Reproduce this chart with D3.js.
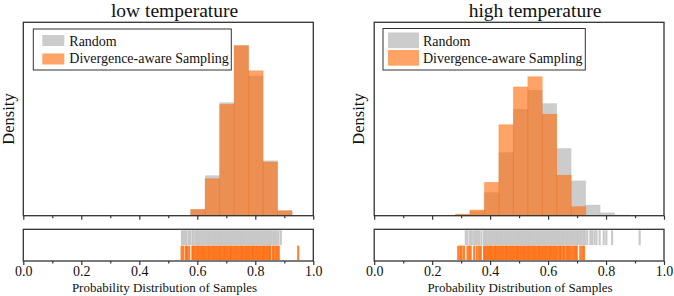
<!DOCTYPE html>
<html>
<head>
<meta charset="utf-8">
<script src="https://cdn.jsdelivr.net/npm/d3@7"></script>
<style>
  html, body { margin: 0; padding: 0; background: #fff; }
  svg { display: block; }
  text { font-family: "Liberation Serif", "Times New Roman", serif; fill: #111; }
</style>
</head>
<body>
<svg id="chart" width="674" height="296"></svg>
<script>
// ---------------- DATA ----------------
const panelTitles = ["low temperature", "high temperature"];
const seriesNames = ["Random", "Divergence-aware Sampling"];
const xTickLabels = [0.0, 0.2, 0.4, 0.6, 0.8, 1.0];
const xMinorTicks = [0.1, 0.3, 0.5, 0.7, 0.9];
const xLabel = "Probability Distribution of Samples";
const yLabel = "Density";

// histogram bin left edges (width 0.05) and densities
const lowBinEdges = [0.577, 0.627, 0.677, 0.727, 0.777, 0.827, 0.877];
const lowRandom   = [0.25, 1.52, 4.28, 6.43, 5.28, 2.08, 0.19];
const lowDAS      = [0.23, 1.40, 4.21, 6.43, 5.48, 2.03, 0.19];
const lowYMax = 7.31;

const highBinEdges = [0.28, 0.33, 0.38, 0.43, 0.48, 0.53, 0.58, 0.63, 0.68, 0.73, 0.78, 0.83];
const highRandom   = [0.03, 0.16, 0.84, 2.29, 3.86, 4.55, 4.07, 2.44, 1.27, 0.39, 0.11, 0.03];
const highDAS      = [0.06, 0.21, 1.21, 3.30, 4.67, 5.04, 3.68, 1.47, 0.33, 0.00, 0.00, 0.00];
const highYMax = 7.01;
const binWidth = 0.05;

// rug samples
const lowRugRandom = [0.547, 0.554, 0.561, 0.569, 0.575, 0.583, 0.586, 0.593,
  0.598, 0.602, 0.607, 0.612, 0.617, 0.621, 0.626, 0.631, 0.636, 0.640, 0.645, 0.650,
  0.655, 0.659, 0.664, 0.669, 0.674, 0.678, 0.683, 0.688, 0.693, 0.697, 0.702, 0.707,
  0.712, 0.716, 0.721, 0.726, 0.731, 0.735, 0.740, 0.745, 0.750, 0.754, 0.759, 0.764,
  0.769, 0.773, 0.778, 0.783, 0.788, 0.792, 0.797, 0.802, 0.807, 0.811, 0.816, 0.821,
  0.826, 0.830, 0.835, 0.840, 0.845, 0.849, 0.854, 0.857,
  0.863, 0.868, 0.874, 0.880, 0.888];
const lowRugDAS = [0.546, 0.552, 0.561, 0.565, 0.572, 0.583, 0.586, 0.592,
  0.598, 0.602, 0.607, 0.612, 0.617, 0.621, 0.626, 0.631, 0.636, 0.640, 0.645, 0.650,
  0.655, 0.659, 0.664, 0.669, 0.674, 0.678, 0.683, 0.688, 0.693, 0.697, 0.702, 0.707,
  0.712, 0.716, 0.721, 0.726, 0.731, 0.735, 0.740, 0.745, 0.750, 0.754, 0.759, 0.764,
  0.769, 0.773, 0.778, 0.783, 0.788, 0.792, 0.797, 0.802, 0.807, 0.811, 0.816, 0.821,
  0.826, 0.830, 0.835, 0.840, 0.845, 0.849, 0.851,
  0.860, 0.864, 0.871, 0.876, 0.881, 0.948];
const highRugRandom = [0.316, 0.322, 0.331, 0.337, 0.345, 0.351, 0.356, 0.362, 0.370,
  0.379, 0.383, 0.388, 0.393, 0.398, 0.402, 0.407, 0.412, 0.417, 0.421, 0.426, 0.431,
  0.436, 0.440, 0.445, 0.450, 0.455, 0.459, 0.464, 0.469, 0.474, 0.478, 0.483, 0.488,
  0.493, 0.497, 0.502, 0.507, 0.512, 0.516, 0.521, 0.526, 0.531, 0.535, 0.540, 0.545,
  0.550, 0.554, 0.559, 0.564, 0.569, 0.573, 0.578, 0.583, 0.588, 0.592, 0.597, 0.602,
  0.607, 0.611, 0.616, 0.621, 0.626, 0.630, 0.635, 0.640, 0.645, 0.649, 0.654, 0.659,
  0.664, 0.668, 0.673, 0.678, 0.683, 0.687, 0.692, 0.697, 0.702, 0.706, 0.711, 0.716, 0.722,
  0.727, 0.735, 0.746, 0.752, 0.760, 0.767, 0.778, 0.792, 0.801, 0.821, 0.916];
const highRugDAS = [0.290, 0.297, 0.302, 0.310, 0.322, 0.328, 0.333, 0.345, 0.354, 0.362, 0.368,
  0.379, 0.383, 0.388, 0.393, 0.398, 0.402, 0.407, 0.412, 0.417, 0.421, 0.426, 0.431,
  0.436, 0.440, 0.445, 0.450, 0.455, 0.459, 0.464, 0.469, 0.474, 0.478, 0.483, 0.488,
  0.493, 0.497, 0.502, 0.507, 0.512, 0.516, 0.521, 0.526, 0.531, 0.535, 0.540, 0.545,
  0.550, 0.554, 0.559, 0.564, 0.569, 0.573, 0.578, 0.583, 0.588, 0.592, 0.597, 0.602,
  0.607, 0.611, 0.616, 0.621, 0.626, 0.630, 0.636, 0.641, 0.645, 0.652, 0.656,
  0.663, 0.668, 0.673, 0.678, 0.684, 0.690, 0.695, 0.699, 0.711, 0.718, 0.724];

// ---------------- STYLE / LAYOUT ----------------
const grayFill = "#808080", grayOpacity = 0.4;
const orangeFill = "#ff6600", orangeOpacity = 0.6;
const axisColor = "#333";

const panels = [
  { title: panelTitles[0], edges: lowBinEdges, random: lowRandom, das: lowDAS, yMax: lowYMax,
    rugR: lowRugRandom, rugD: lowRugDAS,
    x0: 23.3, x1: 313.3, titleX: 174.5, xlabX: 164.5, ylabX: 13.5,
    legend: { x: 33.3, y: 29, w: 198, h: 41, pw: 22, px: 9, gy: 6, oy: 24.5, ph: 11, tx: 36 } },
  { title: panelTitles[1], edges: highBinEdges, random: highRandom, das: highDAS, yMax: highYMax,
    rugR: highRugRandom, rugD: highRugDAS,
    x0: 374.2, x1: 664, titleX: 535, xlabX: 520, ylabX: 363.5,
    legend: { x: 383, y: 28.5, w: 202.3, h: 41.5, pw: 31, px: 5, gy: 4, oy: 21.5, ph: 15.7, tx: 40 } }
];
const mainTop = 22.3, mainBottom = 215.7;
const rugTop = 229.3, rugBottom = 261;

const svg = d3.select("#chart");

panels.forEach(p => {
  const g = svg.append("g");
  const x = d3.scaleLinear().domain([0, 1]).range([p.x0, p.x1]);
  const y = d3.scaleLinear().domain([0, p.yMax]).range([mainBottom, mainTop]);

  // Histogram bars: Random (gray) then DAS (orange)
  const binsR = p.edges.map((e, i) => ({ x0: e, v: p.random[i] }));
  const binsD = p.edges.map((e, i) => ({ x0: e, v: p.das[i] }));
  g.append("g").selectAll("rect").data(binsR.filter(d => d.v > 0)).join("rect")
    .attr("x", d => x(d.x0)).attr("width", d => x(d.x0 + binWidth) - x(d.x0))
    .attr("y", d => y(d.v)).attr("height", d => y(0) - y(d.v))
    .attr("fill", grayFill).attr("fill-opacity", grayOpacity)
    .attr("stroke", grayFill).attr("stroke-opacity", 0.08).attr("stroke-width", 0.8);
  g.append("g").selectAll("rect").data(binsD.filter(d => d.v > 0)).join("rect")
    .attr("x", d => x(d.x0)).attr("width", d => x(d.x0 + binWidth) - x(d.x0))
    .attr("y", d => y(d.v)).attr("height", d => y(0) - y(d.v))
    .attr("fill", orangeFill).attr("fill-opacity", orangeOpacity)
    .attr("stroke", orangeFill).attr("stroke-opacity", 0.25).attr("stroke-width", 0.8);

  // main frame
  g.append("rect").attr("x", p.x0).attr("y", mainTop)
    .attr("width", p.x1 - p.x0).attr("height", mainBottom - mainTop)
    .attr("fill", "none").attr("stroke", axisColor).attr("stroke-width", 1.3);

  // main bottom ticks (no labels)
  const mainAxisMajor = d3.axisBottom(x).tickValues(xTickLabels).tickSize(4).tickFormat("");
  const mainAxisMinor = d3.axisBottom(x).tickValues(xMinorTicks).tickSize(2.5).tickFormat("");
  [mainAxisMajor, mainAxisMinor].forEach(ax => {
    const a = g.append("g").attr("transform", `translate(0,${mainBottom})`).call(ax);
    a.select(".domain").remove();
    a.selectAll("line").attr("stroke", axisColor).attr("stroke-width", 1.2);
  });

  // Rug
  const rugMid = (rugTop + rugBottom) / 2;
  g.append("g").selectAll("line").data(p.rugR).join("line")
    .attr("x1", d => x(d)).attr("x2", d => x(d))
    .attr("y1", rugTop + 1).attr("y2", rugMid)
    .attr("stroke", "#c8c8c8").attr("stroke-opacity", 1).attr("stroke-width", 2.1);
  g.append("g").selectAll("line").data(p.rugD).join("line")
    .attr("x1", d => x(d)).attr("x2", d => x(d))
    .attr("y1", rugMid + 0.5).attr("y2", rugBottom - 1)
    .attr("stroke", "#ff6a0a").attr("stroke-opacity", 0.85).attr("stroke-width", 2.1);

  g.append("rect").attr("x", p.x0).attr("y", rugTop)
    .attr("width", p.x1 - p.x0).attr("height", rugBottom - rugTop)
    .attr("fill", "none").attr("stroke", axisColor).attr("stroke-width", 1.3);

  // rug axis with labels
  const rugAxis = d3.axisBottom(x).tickValues(xTickLabels).tickSize(4).tickPadding(1)
    .tickFormat(d3.format(".1f"));
  const ra = g.append("g").attr("transform", `translate(0,${rugBottom})`).call(rugAxis);
  ra.select(".domain").remove();
  ra.selectAll("line").attr("stroke", axisColor).attr("stroke-width", 1.2);
  ra.selectAll("text").attr("font-size", 14).attr("font-family", "Liberation Serif").attr("fill", "#222");
  const rm = g.append("g").attr("transform", `translate(0,${rugBottom})`)
    .call(d3.axisBottom(x).tickValues(xMinorTicks).tickSize(2.5).tickFormat(""));
  rm.select(".domain").remove();
  rm.selectAll("line").attr("stroke", axisColor).attr("stroke-width", 1.2);

  // titles & labels
  g.append("text").attr("x", p.titleX).attr("y", 16.5).attr("text-anchor", "middle")
    .attr("font-size", 19.5).text(p.title);
  g.append("text").attr("x", p.xlabX).attr("y", 291.5).attr("text-anchor", "middle")
    .attr("font-size", 13).text(xLabel);
  g.append("text").attr("transform", `translate(${p.ylabX},${(mainTop + mainBottom) / 2}) rotate(-90)`)
    .attr("text-anchor", "middle").attr("font-size", 16.5).text(yLabel);

  // legend
  const L = p.legend;
  const lg = g.append("g").attr("transform", `translate(${L.x},${L.y})`);
  lg.append("rect").attr("width", L.w).attr("height", L.h)
    .attr("fill", "#fff").attr("stroke", axisColor).attr("stroke-width", 1);
  lg.append("rect").attr("x", L.px).attr("y", L.gy).attr("width", L.pw).attr("height", L.ph)
    .attr("fill", grayFill).attr("fill-opacity", grayOpacity);
  lg.append("rect").attr("x", L.px).attr("y", L.oy).attr("width", L.pw).attr("height", L.ph)
    .attr("fill", orangeFill).attr("fill-opacity", orangeOpacity);
  lg.append("text").attr("x", L.tx).attr("y", 17).attr("font-size", 14).text(seriesNames[0]);
  lg.append("text").attr("x", L.tx).attr("y", 34).attr("font-size", 14).text(seriesNames[1]);
});
</script>
</body>
</html>
